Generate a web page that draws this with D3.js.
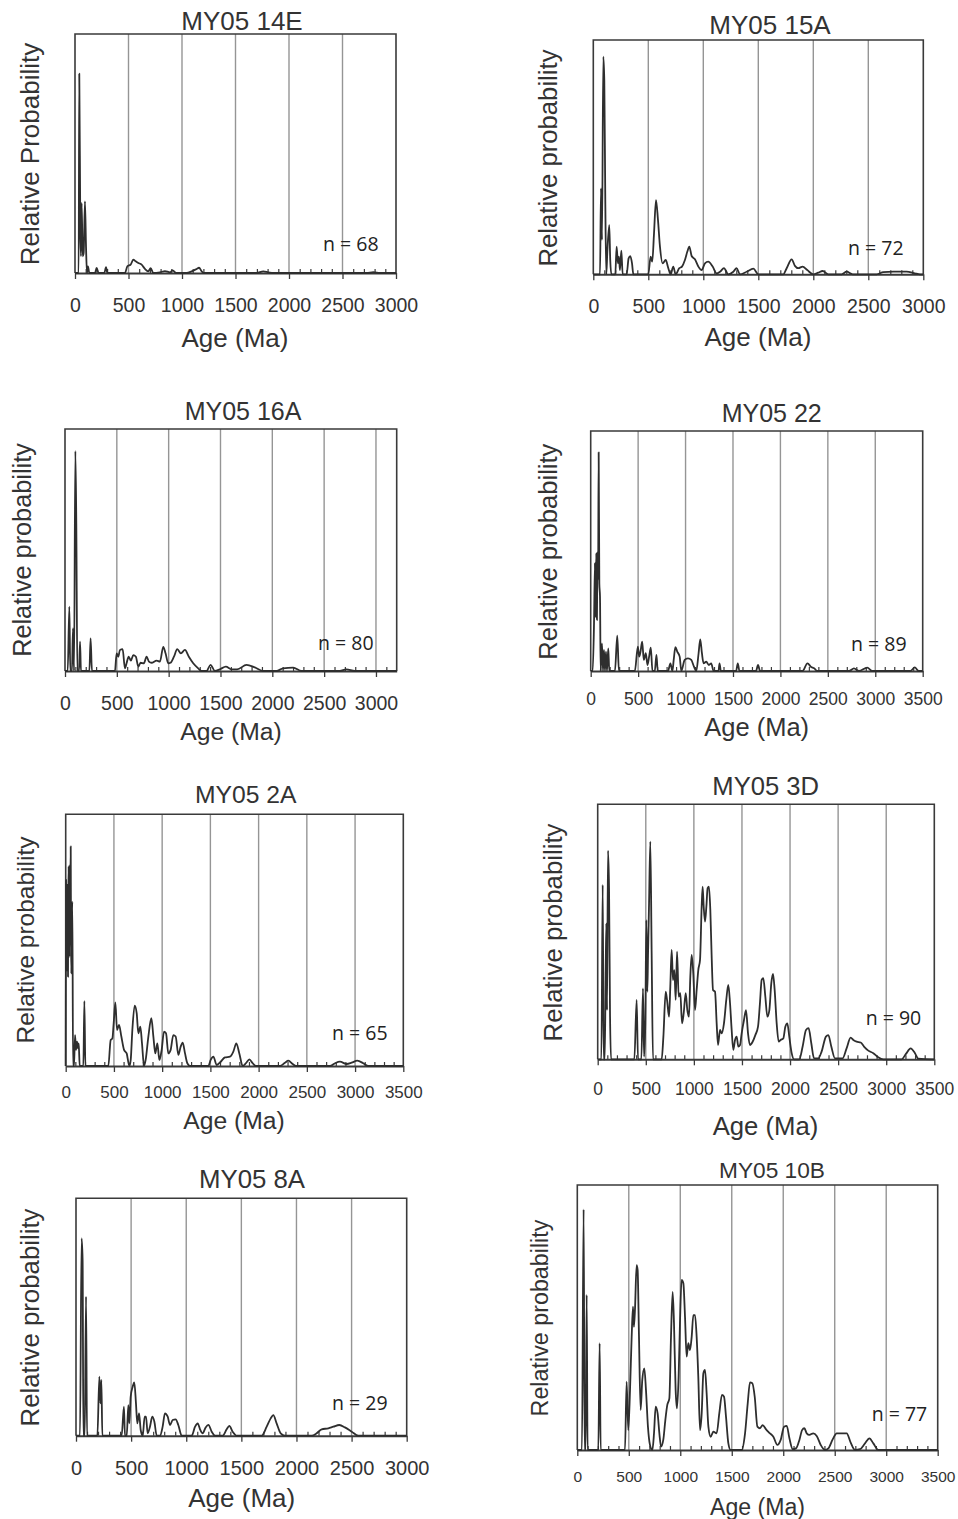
<!DOCTYPE html>
<html><head><meta charset="utf-8">
<script src="https://cdn.jsdelivr.net/npm/d3@7"></script>
<style>body{margin:0;background:#fff}svg{display:block}</style>
</head><body>
<svg id="chart" width="958" height="1519"></svg>
<script>
// ---------------- DATA ----------------
const titles = ["MY05 14E","MY05 15A","MY05 16A","MY05 22","MY05 2A","MY05 3D","MY05 8A","MY05 10B"];
const yLabels = ["Relative Probability","Relative probability","Relative probability","Relative probability",
                 "Relative probability","Relative probability","Relative probability","Relative probability"];
const nCounts = [68,72,80,89,65,90,29,77];
const xMaxes = [3000,3000,3200,3500,3500,3500,3000,3500];
const tickLabels = [0,500,1000,1500,2000,2500,3000,3500];

// [age (Ma), relative probability (% of panel height)]
const my05_14E = [[0,0],[22,0],[34,0],[40,83.4],[50,16.7],[56,7],[62,29.3],[72,7],[81,8.4],[93,30],[103,11],[112,0],[121,2.8],[134,0],[187,0],[202,2.1],[221,0],[274,0],[290,2.4],[302,0],[467,0],[489,2.8],[520,3.5],[545,5.6],[567,4.9],[592,4.2],[623,3.5],[654,1.7],[685,0.7],[707,2],[732,0],[794,0.3],[841,0.8],[888,0.3],[913,1.1],[944,0],[1044,0],[1090,0.7],[1137,1.7],[1159,2.2],[1184,0.7],[1206,0],[1698,0],[1760,0.7],[1807,0.3],[1853,0],[2726,0],[2788,0.4],[2850,0],[3000,0]];
const my05_15A = [[0,0],[45,0],[61,0],[70,36.7],[79,14.7],[91,92.9],[100,82.9],[109,31.7],[118,0],[127,9],[145,21],[154,6.1],[164,0],[200,0],[212,11.8],[224,4.7],[233,7.5],[242,1.8],[255,10.1],[267,0],[303,0],[321,6.8],[336,7.8],[352,4.7],[364,0],[500,0],[521,7.5],[536,5.4],[552,17.5],[570,31.7],[588,23.2],[606,11.8],[630,4.7],[658,6.1],[682,2.6],[703,0],[727,3.3],[748,0],[782,2.6],[806,3.3],[833,6.1],[855,9.7],[873,11.8],[894,7.8],[924,6.4],[955,3.3],[985,1.8],[1015,4.7],[1045,5.4],[1085,3.3],[1121,0.4],[1152,1.1],[1188,2.6],[1227,0],[1273,1.1],[1303,2.6],[1333,0],[1394,1.1],[1455,2.4],[1500,0],[1727,0],[1758,2.6],[1803,6.4],[1833,3.6],[1864,2.6],[1903,3.3],[1945,1.8],[2000,0],[2045,0.7],[2085,1.4],[2136,0],[2258,0],[2303,1.1],[2358,0],[2576,0],[2636,0.9],[2727,1.1],[2848,1.1],[2924,0.4],[2970,0],[3000,0]];
const my05_16A = [[0,0],[26,0],[42,26.6],[51,0],[67,0],[77,17.6],[87,0],[100,90.9],[109,61],[119,0],[135,0],[145,12.1],[154,0],[235,0],[247,13.5],[260,0],[482,0],[498,7.3],[514,5.9],[530,8.7],[556,9],[578,1.1],[594,3.2],[614,5.9],[636,4.3],[659,6.6],[684,5.9],[707,1.8],[729,3.4],[761,3.2],[787,5.9],[810,3.9],[835,3.4],[884,4.3],[916,3.9],[948,10],[970,7.3],[996,3.2],[1018,3.4],[1051,5.9],[1083,9],[1118,7.3],[1157,8.7],[1195,5.9],[1237,3.2],[1285,1.1],[1317,0],[1366,0],[1404,2.5],[1446,0],[1494,0.7],[1552,1.8],[1607,0.7],[1661,0.7],[1751,2.5],[1831,1.5],[1912,0],[2040,0],[2104,1.1],[2201,1.4],[2281,0],[2651,0],[2715,0.7],[2795,0],[3200,0]];
const my05_22 = [[0,0],[21,0],[35,19.9],[45,44.9],[49,28],[52,22.6],[56,40],[59.5,49],[63,30],[66,21.3],[70,45],[73.5,49.7],[78,38],[84,91.1],[91,36.5],[98,31],[105,0],[119,11.5],[129.5,0],[140,8.8],[150.5,0],[161,8.1],[171.5,0],[185.5,9.4],[196,0],[255.5,0],[280,14.7],[297.5,0],[465.5,0],[497,10.1],[511,6],[525,8],[542.5,12.2],[560,4.6],[581,7.4],[598.5,2.5],[616,6],[633.5,9.7],[651,0],[675.5,0],[693,6.7],[707,0],[815.5,0],[840,3.2],[861,0],[875,4.6],[892.5,9.9],[913.5,8],[938,6],[955.5,0],[990.5,4.6],[1025.5,5.3],[1060.5,4.6],[1088.5,1.8],[1113,0],[1137.5,7.4],[1155,13.2],[1172.5,7.4],[1190,3.2],[1218,3.9],[1246,2.5],[1270.5,3.2],[1295,0],[1347.5,0],[1358,3.2],[1372,0],[1533,0],[1550.5,3.2],[1568,0],[1743,0],[1764,2.5],[1785,0],[2233,0],[2285.5,3.2],[2320.5,1.8],[2355.5,1.1],[2390.5,0],[2723,0],[2775.5,1.1],[2828,0],[2915.5,1.4],[2968,0],[3370.5,0],[3416,1.5],[3458,0],[3500,0]];
const my05_2A = [[0,0],[3.5,73.9],[7,40],[10,38],[13,70],[17,72],[20,45],[24,35.5],[27,68],[31,79.2],[35,50],[38,43.4],[41.5,79.9],[46,60],[52,87.2],[55,50],[59,36.8],[64,60],[69,65.3],[76,0],[86,0],[97,12.3],[107,6.4],[117.5,9.7],[128,7],[135,9],[145,0],[183,0],[193.5,25.8],[204,0],[442,0],[466,10.3],[484,11],[497.5,17],[515,25.3],[532,14.3],[553,16.3],[577,11.7],[605,6.4],[632,5],[660,0],[674,2.4],[691,14.3],[715,24],[736,21],[753,13],[774,15.6],[791,9],[812,0],[829,2.4],[857,11.7],[888,19],[909,11.7],[929,5],[950,9],[971,2.4],[995,6.4],[1019,13.6],[1040,13],[1064,5],[1088,6.4],[1116,12.3],[1140,11.7],[1168,4.4],[1192,7.7],[1213,9.3],[1237,5],[1261,1.1],[1289,0],[1479,0],[1503,2.4],[1531,3.7],[1565,0.4],[1607,1.7],[1651,3.4],[1703,3.7],[1738,5.7],[1769,9],[1800,5],[1835,0],[1869,1.1],[1904,2.6],[1938,1.1],[1973,0],[2222,0],[2273,1.3],[2308,2.1],[2353,0.8],[2387,0],[2740,0],[2792,1.1],[2843,1.7],[2913,0.8],[2964,1.3],[3023,2.1],[3085,1.1],[3137,0],[3500,0]];
const my05_3D = [[0,0],[38,0],[52,68.4],[62,0],[73,0],[83,35],[90,53.3],[97,19.3],[107,81.8],[118,67],[128,18],[139,0],[381,0],[405,23.3],[419,0],[454,0],[471,27.8],[482,1],[495,14.1],[506,54.6],[516,26.5],[523,40.3],[534,61.2],[547,85.4],[561,41.6],[575,0],[665,0],[683,8.9],[707,26.5],[721,23.3],[742,16.7],[755,28.5],[769,42.9],[783,31.1],[797,35],[811,23.3],[825,42.2],[842,24.6],[859,25.9],[877,14.1],[894,18],[915,25.9],[932,19.3],[949,16.7],[963,32.4],[977,40.9],[994,33.7],[1012,19.3],[1029,27.2],[1046,35],[1064,39],[1081,59.9],[1091,67.7],[1102,59.9],[1116,54],[1130,59.9],[1143,67.1],[1157,67.7],[1171,58.6],[1185,40.3],[1199,27.2],[1220,26.5],[1237,14.1],[1251,5.6],[1272,11.5],[1289,10.2],[1313,14.1],[1337,23.3],[1358,29.2],[1376,22],[1393,11.5],[1410,3.7],[1428,7.6],[1445,8.9],[1462,5],[1480,5.6],[1497,10.2],[1521,15.4],[1542,19.3],[1563,10.2],[1583,5.6],[1611,6.9],[1639,9.5],[1667,12.8],[1687,22],[1705,31.1],[1722,31.8],[1743,24.6],[1764,16.7],[1785,19.3],[1805,29.8],[1823,33.5],[1840,27.2],[1861,14.1],[1882,6.9],[1902,7.6],[1930,8.2],[1951,12.8],[1972,14.1],[1992,8.9],[2017,2.4],[2041,0],[2096,0],[2131,5],[2166,11.5],[2193,12.2],[2221,6.3],[2249,0.4],[2294,0.4],[2328,3],[2373,8.9],[2398,9.5],[2429,5],[2467,0.4],[2547,0.4],[2588,4.3],[2630,8.5],[2658,7.6],[2692,6.9],[2734,6.6],[2769,5],[2814,3.4],[2866,2.4],[2917,0.8],[2970,0],[3160,0],[3205,2.1],[3254,4.3],[3299,2.4],[3333,0.3],[3500,0]];
const my05_8A = [[0,0],[36,0],[51,83.1],[60,74],[67,0],[79,0],[91,58.6],[100,0],[194,0],[212,24.9],[221,13.6],[230,23.5],[239,0],[414,0],[435,12.2],[444,0],[460,0],[475,12.9],[484,5.2],[496,16.4],[514,20.6],[529,22.5],[544,13.6],[556,5.2],[572,9.4],[587,2.4],[605,0],[623,8],[635,8],[650,1],[671,3.8],[692,8],[711,5.9],[732,0],[762,0],[786,3.8],[807,9.4],[832,8],[853,4.5],[877,6.6],[904,6.9],[928,4.5],[959,0],[1049,0],[1080,3.8],[1104,5.2],[1125,2.7],[1149,1],[1176,3.5],[1201,4.6],[1231,1.7],[1261,0],[1331,0],[1367,2.7],[1391,4.1],[1421,1.7],[1458,0],[1684,0],[1730,3.8],[1766,7.3],[1790,8.7],[1820,5.2],[1857,1],[1896,0],[2138,0],[2183,1],[2229,2.7],[2289,3.1],[2335,3.8],[2389,4.5],[2440,3.5],[2501,1.7],[2561,0],[3000,0]];
const my05_10B = [[0,0],[45,0],[61.5,90.8],[71,0],[81,0],[91,58.5],[100,0],[204,0],[217,40.3],[227,0],[463,0],[479,25.8],[495,7.5],[512,22.6],[528,42.8],[541,54.1],[550,46.5],[560,52.8],[576,69.8],[586,67.9],[599,42.8],[615,15.1],[631,26.4],[651,30.8],[667,22.6],[686,8.8],[706,1.9],[729,0],[745,6.3],[761,16.4],[780,13.8],[797,6.3],[813,1.3],[835,3.8],[855,11.3],[874,17],[894,19.5],[910,42.8],[926,59.7],[939,47.8],[955,22.6],[968,15.7],[984,27.7],[997,47.8],[1013,64.2],[1030,62.9],[1046,50.3],[1062,35.2],[1078,40.3],[1094,37.7],[1111,42.8],[1127,50.9],[1143,50.9],[1159,42.8],[1175,27.7],[1192,7.5],[1208,13.8],[1224,28.9],[1240,30.2],[1256,21.4],[1273,8.8],[1295,5],[1321,6.9],[1353,6.3],[1379,13.8],[1405,20.8],[1425,20.1],[1444,12.6],[1467,2.5],[1489,0],[1596,0],[1629,6.3],[1655,17.6],[1677,25.5],[1700,25.2],[1723,20.1],[1749,8.8],[1774,8.2],[1800,9.4],[1833,7.8],[1865,6.5],[1904,5],[1943,1.9],[1975,3.8],[2008,8.8],[2034,9.1],[2060,4.4],[2092,0.3],[2124,0.6],[2157,3.8],[2183,7.5],[2205,8.2],[2228,6.3],[2254,5.7],[2292,6.3],[2325,5.3],[2364,1.9],[2406,0],[2438,0.6],[2480,4],[2519,6.3],[2568,6.3],[2616,6.3],[2655,2.8],[2697,0],[2746,0.3],[2794,2.5],[2837,4.4],[2875,2.5],[2924,0],[3500,0]];
const curves = [my05_14E,my05_15A,my05_16A,my05_22,my05_2A,my05_3D,my05_8A,my05_10B];

// ---------------- LAYOUT ----------------
const layout = [
 {l:75,   r:396,   t:34,    b:273,    tx:242,   ty:29.5,  ts:26,   yx:30,    yy:154,   ys:26,   ax:235,   ay:347,   as:26,   ky:312,   ks:19.5, nx:323,   ny:251},
 {l:593.3,r:923.3, t:40,    b:274.3,  tx:770,   ty:34,    ts:26,   yx:548,   yy:158,   ys:25.7, ax:758,   ay:346,   as:26,   ky:313,   ks:19.5, nx:848,   ny:255},
 {l:65,   r:396.7, t:429,   b:671,    tx:243,   ty:420,   ts:25,   yx:22,    yy:550,   ys:25.3, ax:231,   ay:740,   as:24.7, ky:710,   ks:19.5, nx:318,   ny:650},
 {l:590.7,r:922.7, t:431,   b:671,    tx:771.7, ty:421.7, ts:25,   yx:548,   yy:551.7, ys:25.6, ax:756.7, ay:736,   as:25.5, ky:705,   ks:17.5, nx:851,   ny:651},
 {l:65.7, r:403.3, t:814.3, b:1066,   tx:245.8, ty:803.3, ts:24.7, yx:25,    yy:940,   ys:24.5, ax:234,   ay:1129,  as:24.7, ky:1098.3,ks:17,   nx:332,   ny:1040},
 {l:597.7,r:934.3, t:804.3, b:1059.3, tx:765.7, ty:795,   ts:25.6, yx:553.3, yy:932.5, ys:25.8, ax:765.5, ay:1135,  as:25.7, ky:1095,  ks:17.5, nx:865.7, ny:1025},
 {l:76,   r:406.7, t:1198.3,b:1435.7, tx:252,   ty:1188.3,ts:25.8, yx:30,    yy:1317.5,ys:25.8, ax:241.7, ay:1507,  as:26,   ky:1475,  ks:20,   nx:332,   ny:1410},
 {l:577.3,r:937.7, t:1185,  b:1450,   tx:772,   ty:1178.3,ts:22.7, yx:540,   yy:1318,  ys:23.3, ax:757.5, ay:1515,  as:23.1, ky:1481.7,ks:15.5, nx:871.7, ny:1421}
];

const FONT = "'Liberation Sans', Arial, Helvetica, sans-serif";
const FRAME = "#3a3a3a", GRID = "#959595", LINE = "#2e2e2e", TEXT = "#333333";
const svg = d3.select("#chart");

layout.forEach((L, i) => {
  const xMax = xMaxes[i];
  const x = d3.scaleLinear().domain([0, xMax]).range([L.l, L.r]);
  const y = d3.scaleLinear().domain([0, 100]).range([L.b, L.t]);
  const g = svg.append("g");
  const majors = tickLabels.filter(t => t <= xMax);
  const minors = d3.range(100, xMax, 100).filter(t => t % 500 !== 0);

  // vertical gridlines
  g.selectAll("line.grid").data(majors.filter(t => t > 0 && t < xMax)).join("line")
    .attr("x1", d => x(d)).attr("x2", d => x(d))
    .attr("y1", L.b).attr("y2", L.t)
    .attr("stroke", GRID).attr("stroke-width", 1.4);

  // minor ticks (inward)
  const minorAxis = d3.axisBottom(x).tickValues(minors).tickSize(-4).tickFormat("").tickSizeOuter(0);
  g.append("g").attr("transform", `translate(0,${L.b})`).call(minorAxis)
    .call(a => a.select(".domain").remove())
    .call(a => a.selectAll(".tick line").attr("stroke", FRAME).attr("stroke-width", 1.2));

  // major axis with labels
  const tickLen = 6;
  const pad = L.ky - L.b - tickLen - 0.71 * L.ks;
  const majorAxis = d3.axisBottom(x).tickValues(majors).tickSize(tickLen).tickSizeOuter(0).tickPadding(pad).tickFormat(d3.format("d"));
  g.append("g").attr("transform", `translate(0,${L.b})`).call(majorAxis)
    .call(a => a.select(".domain").attr("stroke", FRAME).attr("stroke-width", 2))
    .call(a => a.selectAll(".tick line").attr("stroke", FRAME).attr("stroke-width", 1.3))
    .call(a => a.selectAll(".tick text").attr("fill", TEXT).style("font-family", FONT).style("font-size", L.ks + "px"));

  // frame (left, top, right)
  g.append("path")
    .attr("d", `M${L.l},${L.b}V${L.t}H${L.r}V${L.b}`)
    .attr("fill", "none").attr("stroke", FRAME).attr("stroke-width", 1.6);

  // curve
  const line = d3.line().x(d => x(d[0])).y(d => y(d[1])).curve(d3.curveMonotoneX);
  g.append("path").datum(curves[i]).attr("d", line)
    .attr("fill", "none").attr("stroke", LINE).attr("stroke-width", 1.8).attr("stroke-linejoin", "round");

  // texts
  g.append("text").attr("x", L.tx).attr("y", L.ty).attr("text-anchor", "middle")
    .style("font-family", FONT).style("font-size", L.ts + "px").attr("fill", TEXT).text(titles[i]);
  g.append("text").attr("transform", `translate(${L.yx},${L.yy}) rotate(-90)`).attr("text-anchor", "middle")
    .attr("dy", "0.35em").style("font-family", FONT).style("font-size", L.ys + "px").attr("fill", TEXT).text(yLabels[i]);
  g.append("text").attr("x", L.ax).attr("y", L.ay).attr("text-anchor", "middle")
    .style("font-family", FONT).style("font-size", L.as + "px").attr("fill", TEXT).text("Age (Ma)");
  g.append("text").attr("x", L.nx).attr("y", L.ny)
    .style("font-family", "'Open Sans', 'Noto Sans', sans-serif").style("font-size", "19.5px").attr("fill", "#222")
    .text("n = " + nCounts[i]);
});
</script>
</body></html>
